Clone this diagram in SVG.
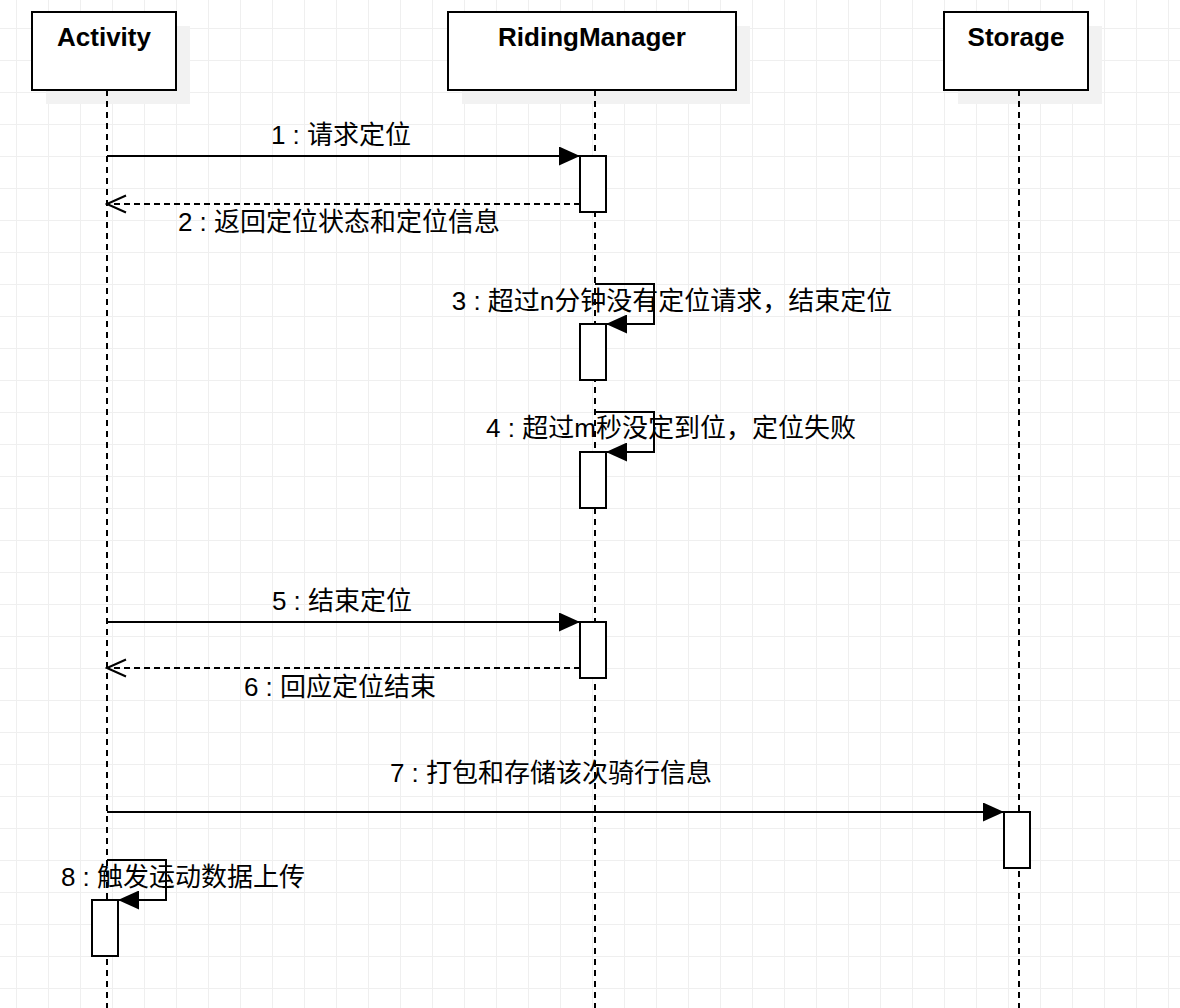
<svg xmlns="http://www.w3.org/2000/svg" width="1180" height="1008" viewBox="0 0 1180 1008">
<defs>
<marker id="block" viewBox="0 0 21 19" refX="21" refY="9.5" markerWidth="21" markerHeight="19" markerUnits="userSpaceOnUse" orient="auto">
<path d="M0,0 L21,9.5 L0,19 Z" fill="#000"/>
</marker>
<marker id="open" viewBox="-2 -2 23 21" refX="19" refY="8.5" markerWidth="23" markerHeight="21" markerUnits="userSpaceOnUse" orient="auto">
<path d="M0,0 L19,8.5 L0,17" fill="none" stroke="#000" stroke-width="2"/>
</marker>
</defs>
<style>
.grid{stroke:#efefef;stroke-width:1;fill:none}
.head{fill:#fff;stroke:#000;stroke-width:2}
.shadow{fill:#f2f2f2}
.htext{font-family:"Liberation Sans","Noto Sans CJK SC",sans-serif;font-size:26px;font-weight:bold;text-anchor:middle;fill:#000}
.life{stroke:#000;stroke-width:2;stroke-dasharray:6 5;fill:none}
.act{fill:#fff;stroke:#000;stroke-width:2}
.msg{stroke:#000;stroke-width:2;fill:none}
.ret{stroke:#000;stroke-width:2;fill:none;stroke-dasharray:6 4}
.lbl{font-family:"Liberation Sans","Noto Sans CJK SC",sans-serif;font-size:26px;text-anchor:middle;fill:#000}
</style>
<rect width="1180" height="1008" fill="#fff"/>
<path class="grid" d="M16.5,0V1008 M48.5,0V1008 M80.5,0V1008 M112.5,0V1008 M144.5,0V1008 M176.5,0V1008 M208.5,0V1008 M240.5,0V1008 M272.5,0V1008 M304.5,0V1008 M336.5,0V1008 M368.5,0V1008 M400.5,0V1008 M432.5,0V1008 M464.5,0V1008 M496.5,0V1008 M528.5,0V1008 M560.5,0V1008 M592.5,0V1008 M624.5,0V1008 M656.5,0V1008 M688.5,0V1008 M720.5,0V1008 M752.5,0V1008 M784.5,0V1008 M816.5,0V1008 M848.5,0V1008 M880.5,0V1008 M912.5,0V1008 M944.5,0V1008 M976.5,0V1008 M1008.5,0V1008 M1040.5,0V1008 M1072.5,0V1008 M1104.5,0V1008 M1136.5,0V1008 M1168.5,0V1008 M0,28.5H1180 M0,60.5H1180 M0,92.5H1180 M0,124.5H1180 M0,156.5H1180 M0,188.5H1180 M0,220.5H1180 M0,252.5H1180 M0,284.5H1180 M0,316.5H1180 M0,348.5H1180 M0,380.5H1180 M0,412.5H1180 M0,444.5H1180 M0,476.5H1180 M0,508.5H1180 M0,540.5H1180 M0,572.5H1180 M0,604.5H1180 M0,636.5H1180 M0,668.5H1180 M0,700.5H1180 M0,732.5H1180 M0,764.5H1180 M0,796.5H1180 M0,828.5H1180 M0,860.5H1180 M0,892.5H1180 M0,924.5H1180 M0,956.5H1180 M0,988.5H1180"/>

<g id="shadows">
<rect class="shadow" x="46" y="26" width="144" height="78"/>
<rect class="shadow" x="462" y="26" width="288" height="78"/>
<rect class="shadow" x="958" y="26" width="144" height="78"/>
</g>

<g id="lifelines">
<line class="life" x1="107" y1="90" x2="107" y2="1008"/>
<line class="life" x1="595" y1="90" x2="595" y2="1008"/>
<line class="life" x1="1019" y1="90" x2="1019" y2="1008"/>
</g>

<g id="activity">
<rect class="head" x="32" y="12" width="144" height="78"/>
<text class="htext" x="104" y="46">Activity</text>
</g>
<g id="ridingmanager">
<rect class="head" x="448" y="12" width="288" height="78"/>
<text class="htext" x="592" y="46">RidingManager</text>
</g>
<g id="storage">
<rect class="head" x="944" y="12" width="144" height="78"/>
<text class="htext" x="1016" y="46">Storage</text>
</g>

<g id="connectors">
<line class="msg" x1="107" y1="156" x2="580" y2="156" marker-end="url(#block)"/>
<line class="ret" x1="580" y1="204" x2="107" y2="204" marker-end="url(#open)"/>
<polyline class="msg" points="595,284 654,284 654,324 606,324" marker-end="url(#block)"/>
<polyline class="msg" points="595,412 654,412 654,452 606,452" marker-end="url(#block)"/>
<line class="msg" x1="107" y1="622" x2="580" y2="622" marker-end="url(#block)"/>
<line class="ret" x1="580" y1="668" x2="107" y2="668" marker-end="url(#open)"/>
<line class="msg" x1="107" y1="812" x2="1004" y2="812" marker-end="url(#block)"/>
<polyline class="msg" points="107,860 166,860 166,900 118,900" marker-end="url(#block)"/>
</g>

<g id="activations">
<rect id="act1" class="act" x="580" y="156" width="26" height="56"/>
<rect id="act3" class="act" x="580" y="324" width="26" height="56"/>
<rect id="act4" class="act" x="580" y="452" width="26" height="56"/>
<rect id="act5" class="act" x="580" y="622" width="26" height="56"/>
<rect id="act7" class="act" x="1004" y="812" width="26" height="56"/>
<rect id="act8" class="act" x="92" y="900" width="26" height="56"/>
</g>

<g id="labels">
<text class="lbl" x="341" y="144">1 : 请求定位</text>
<text class="lbl" x="339" y="231">2 : 返回定位状态和定位信息</text>
<text class="lbl" x="672" y="310">3 : 超过n分钟没有定位请求，结束定位</text>
<text class="lbl" x="671" y="437">4 : 超过m秒没定到位，定位失败</text>
<text class="lbl" x="342" y="610">5 : 结束定位</text>
<text class="lbl" x="340" y="696">6 : 回应定位结束</text>
<text class="lbl" x="551" y="782">7 : 打包和存储该次骑行信息</text>
<text class="lbl" x="183" y="886">8 : 触发运动数据上传</text>
</g>
</svg>
